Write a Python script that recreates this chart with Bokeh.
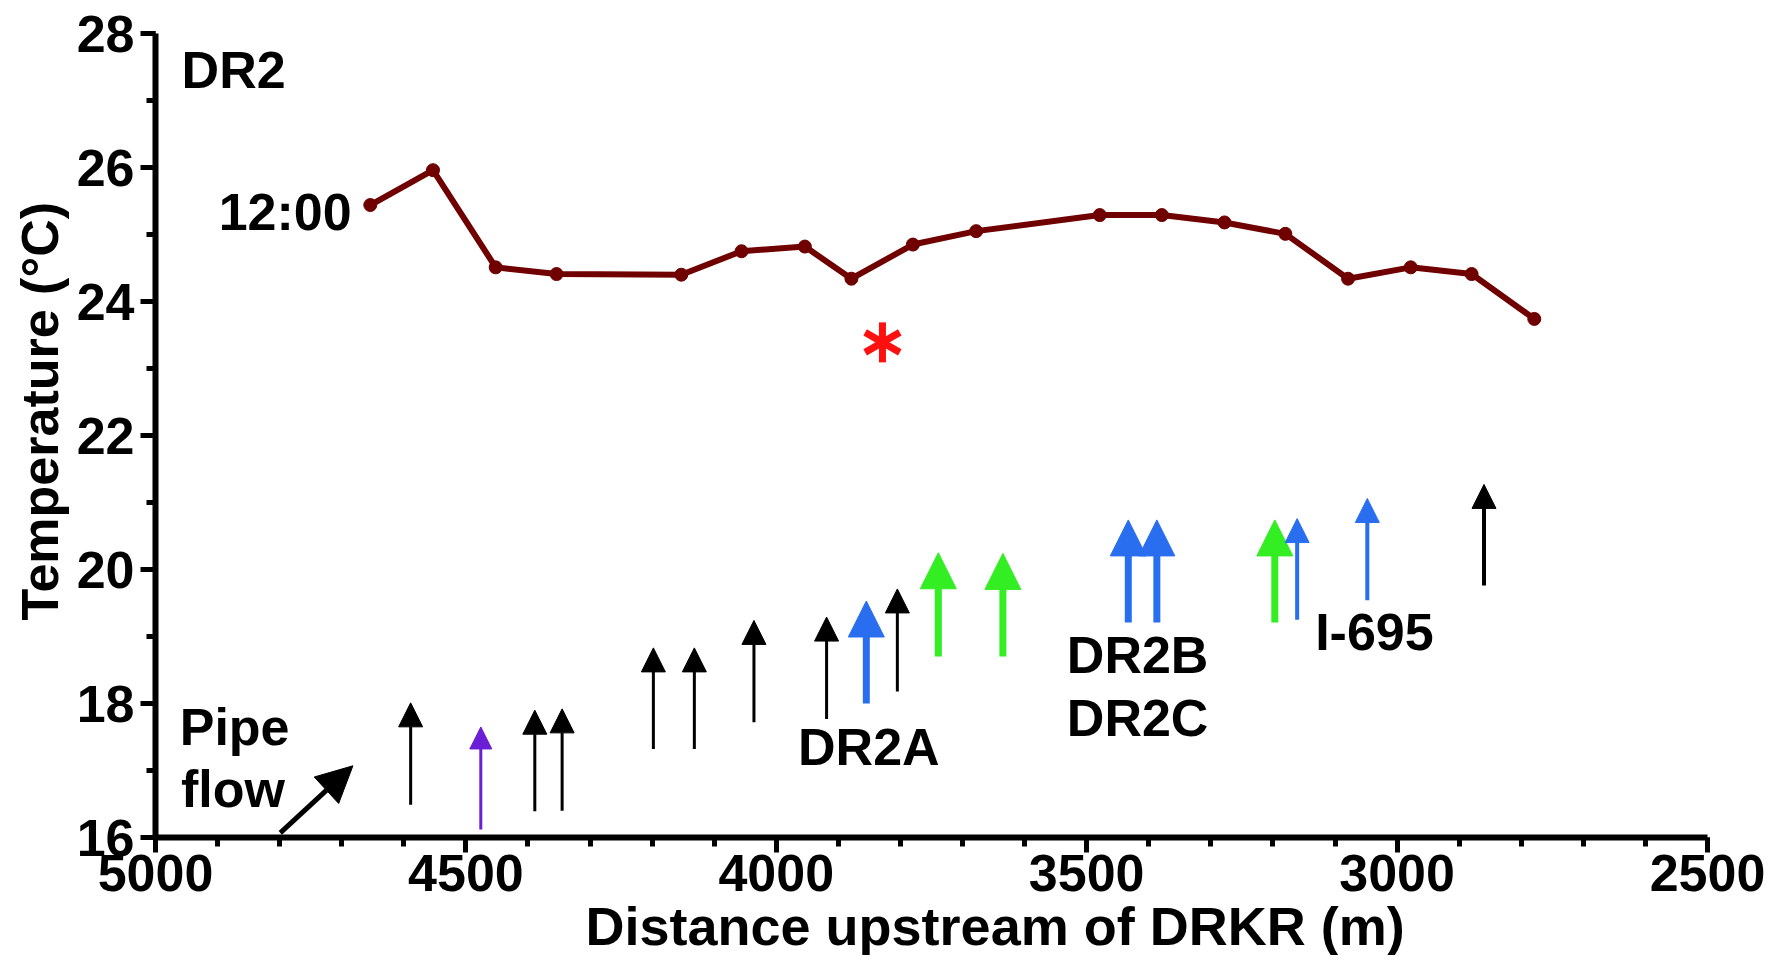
from bokeh.plotting import figure
from bokeh.models import ColumnDataSource, Range1d, FixedTicker, Arrow, NormalHead, Title
from bokeh.core.properties import value
from bokeh.embed import file_html
from bokeh.resources import INLINE

# ---------------- data ----------------
distance = [4654, 4553, 4452, 4354, 4153, 4056, 3954, 3879, 3780, 3678,
            3479, 3379, 3278, 3180, 3079, 2978, 2880, 2779]
temperature = [25.44, 25.96, 24.51, 24.41, 24.40, 24.75, 24.82, 24.34, 24.85, 25.05,
               25.29, 25.29, 25.18, 25.01, 24.34, 24.51, 24.41, 23.74]

x_ticks = [5000, 4500, 4000, 3500, 3000, 2500]
x_minor_ticks = list(range(2500, 5001, 100))
y_ticks = [16, 18, 20, 22, 24, 26, 28]
y_minor_ticks = list(range(16, 29))

# inflow arrows (distance, tail temperature, tip temperature)
black_x = [4589, 4389, 4345, 4198, 4132, 4036, 3919, 3805]
black_tail = [16.49, 16.39, 16.40, 17.32, 17.32, 17.72, 17.77, 18.18]
black_tip = [18.01, 17.90, 17.92, 18.83, 18.83, 19.24, 19.29, 19.71]

black2_x = [2860]
black2_tail = [19.76]
black2_tip = [21.27]

purple_x = [4476]
purple_tail = [16.12]
purple_tip = [17.65]

blue_big_x = [3855, 3433, 3387]
blue_big_tail = [18.00, 19.21, 19.21]
blue_big_tip = [19.53, 20.74, 20.74]

green_x = [3739, 3635, 3197]
green_tail = [18.70, 18.70, 19.21]
green_tip = [20.25, 20.24, 20.74]

blue_small_x = [3161, 3048]
blue_small_tail = [19.25, 19.54]
blue_small_tip = [20.76, 21.06]

pipe_x0, pipe_y0, pipe_x1, pipe_y1 = [4799], [16.07], [4682], [17.07]

# annotation texts (left edge, vertical centre)
label_text = ["DR2", "Pipe", "flow", "DR2A", "DR2B", "DR2C", "I-695"]
label_x = [4958, 4961, 4959, 3965, 3532, 3532, 3132]
label_y = [27.45, 17.65, 16.73, 17.35, 18.73, 17.79, 19.07]

series_label = ["12:00"]
series_label_x = [4684]
series_label_y = [25.34]

star_x = [3829]
star_y = [23.39]

# ---------------- figure ----------------
FONT = "Liberation Sans"
p = figure(width=1766, height=955,
           x_range=Range1d(5000, 2500), y_range=Range1d(16, 28),
           output_backend="svg", toolbar_location=None,
           min_border_left=155, min_border_right=59,
           min_border_top=33, min_border_bottom=112)
p.xgrid.visible = False
p.ygrid.visible = False
p.outline_line_color = None
p.background_fill_color = "white"
p.border_fill_color = "white"

p.xaxis.ticker = FixedTicker(ticks=x_ticks, minor_ticks=x_minor_ticks)
p.yaxis.ticker = FixedTicker(ticks=y_ticks, minor_ticks=y_minor_ticks)

for ax in (p.xaxis[0], p.yaxis[0]):
    ax.axis_line_width = 6
    ax.axis_line_color = "black"
    ax.major_tick_line_width = 5
    ax.minor_tick_line_width = 5
    ax.major_tick_in = 0
    ax.minor_tick_in = 0
    ax.major_label_text_font = FONT
    ax.major_label_text_font_size = "52px"
    ax.major_label_text_font_style = "bold"
    ax.major_label_text_color = "black"

p.xaxis.major_tick_out = 15
p.xaxis.minor_tick_out = 9
p.xaxis.major_label_standoff = 2
p.yaxis.major_tick_out = 15
p.yaxis.minor_tick_out = 9
p.yaxis.major_label_standoff = 6

xt = Title(text="Distance upstream of DRKR (m)", align="left", offset=430,
           text_font=FONT, text_font_size="54px", text_font_style="bold",
           text_color="black", standoff=0)
p.add_layout(xt, "below")

yt = Title(text="Temperature (°C)", align="left", offset=217,
           text_font=FONT, text_font_size="52px", text_font_style="bold",
           text_color="black")
p.add_layout(yt, "left")

# ---------------- temperature line ----------------
line_color = "#700000"
p.line(distance, temperature, line_color=line_color, line_width=6)
p.scatter(distance, temperature, size=13, fill_color=line_color, line_color=line_color)

# red asterisk (three crossing strokes)
for ang in (90, 30, -30):
    p.scatter(star_x, star_y, marker="dash", size=40, angle=ang, angle_units="deg",
              line_color="#ff1010", line_width=7)


# ---------------- arrows ----------------
def add_arrows(xs, tails, tips, color, lw, head):
    src = ColumnDataSource(dict(x=xs, y0=tails, y1=tips))
    p.add_layout(Arrow(end=NormalHead(size=head, fill_color=color, line_color=color),
                       x_start="x", y_start="y0", x_end="x", y_end="y1",
                       line_color=color, line_width=lw, source=src))


add_arrows(black_x, black_tail, black_tip, "black", 3, 24)
add_arrows(black2_x, black2_tail, black2_tip, "black", 4, 24)
add_arrows(purple_x, purple_tail, purple_tip, "#6a1fd6", 3, 22)
add_arrows(blue_big_x, blue_big_tail, blue_big_tip, "#2a6ef0", 7, 36)
add_arrows(green_x, green_tail, green_tip, "#33ee22", 7, 36)
add_arrows(blue_small_x, blue_small_tail, blue_small_tip, "#2a6ef0", 4, 24)

pipe_src = ColumnDataSource(dict(x0=pipe_x0, y0=pipe_y0, x1=pipe_x1, y1=pipe_y1))
p.add_layout(Arrow(end=NormalHead(size=36, fill_color="black", line_color="black"),
                   x_start="x0", y_start="y0", x_end="x1", y_end="y1",
                   line_color="black", line_width=5, source=pipe_src))

# ---------------- text ----------------
p.text(x=label_x, y=label_y, text=label_text, text_font=value(FONT),
       text_font_size="52px", text_font_style="bold", text_color="black",
       text_align="left", text_baseline="middle")
p.text(x=series_label_x, y=series_label_y, text=series_label, text_font=value(FONT),
       text_font_size="52px", text_font_style="bold", text_color="black",
       text_align="right", text_baseline="middle")

open("out.html", "w").write(file_html(p, INLINE))
